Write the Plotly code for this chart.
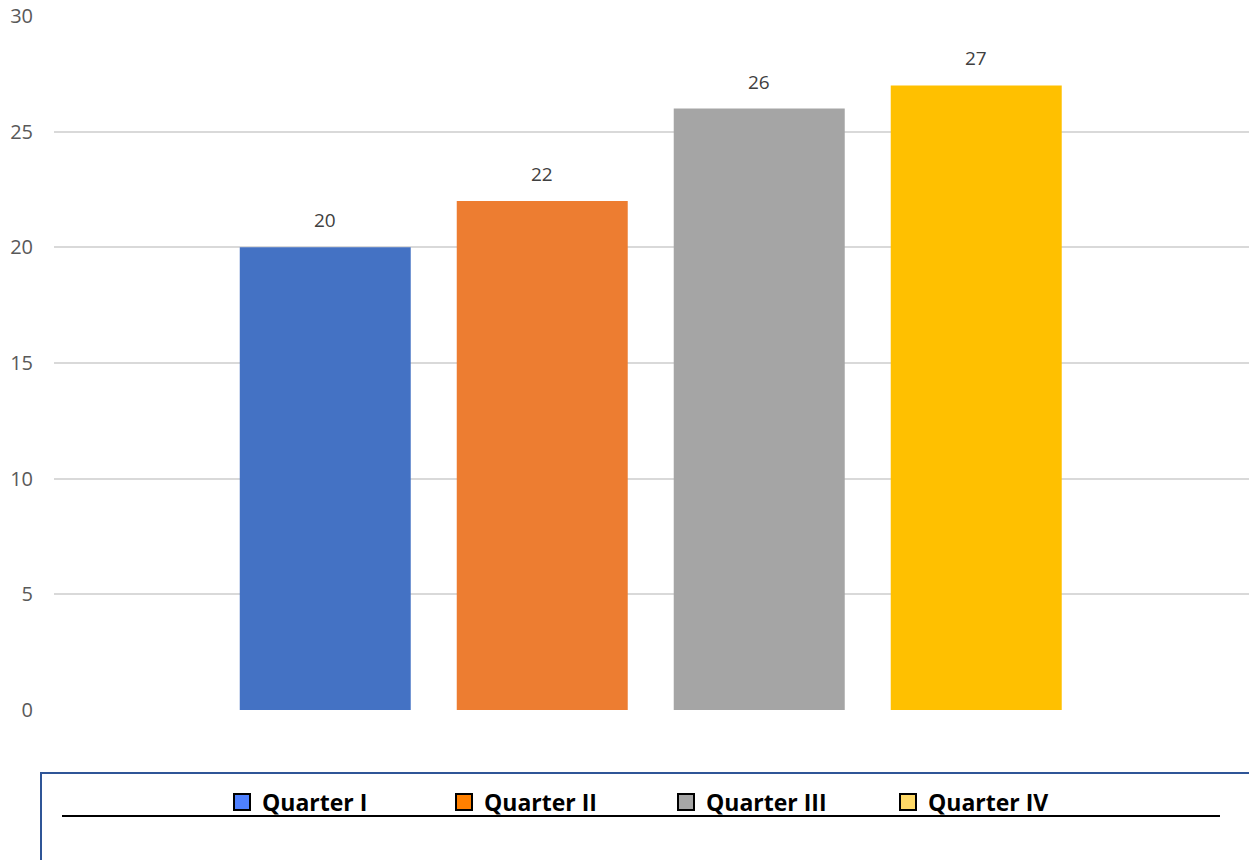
import plotly.graph_objects as go

quarters = ["Quarter I", "Quarter II", "Quarter III", "Quarter IV"]
values = [20, 22, 26, 27]
bar_colors = ["#4472C4", "#ED7D31", "#A5A5A5", "#FFC000"]
legend_colors = ["#4F81FF", "#FF8000", "#A6A6A6", "#FFD966"]
y_ticks = [0, 5, 10, 15, 20, 25, 30]

W, H = 1249, 860
ML, MR, MT, MB = 54, 0, 16, 150
PW, PH = W - ML - MR, H - MT - MB


def px_x(px):
    return (px - ML) / PW


def px_y(py):
    return (H - MB - py) / PH


fig = go.Figure()

for name, val, col in zip(quarters, values, bar_colors):
    fig.add_trace(go.Bar(
        x=[name], y=[val], width=0.788,
        marker=dict(color=col, line=dict(width=0)),
        showlegend=False, hoverinfo="x+y",
    ))

# legend entries with outlined square swatches
for name, col in zip(quarters, legend_colors):
    fig.add_trace(go.Scatter(
        x=[None], y=[None], mode="markers", name=name,
        marker=dict(symbol="square", size=16, color=col,
                    line=dict(color="black", width=2)),
    ))

# value labels above each bar
for name, val in zip(quarters, values):
    fig.add_annotation(
        x=name, y=val, text=str(val), showarrow=False,
        yanchor="bottom", yshift=12,
        font=dict(family="Open Sans", size=19, color="#404040"),
    )

# legend frame and rule beneath the entries
fig.add_shape(type="rect", xref="paper", yref="paper",
              x0=px_x(41), x1=px_x(1262), y0=px_y(880), y1=px_y(773),
              line=dict(color="#2F5597", width=2), fillcolor="rgba(0,0,0,0)")
fig.add_shape(type="line", xref="paper", yref="paper",
              x0=px_x(62), x1=px_x(1220), y0=px_y(816), y1=px_y(816),
              line=dict(color="black", width=2))

fig.update_layout(
    width=W, height=H,
    margin=dict(l=ML, r=MR, t=MT, b=MB),
    paper_bgcolor="white", plot_bgcolor="white",
    barmode="overlay",
    xaxis=dict(range=[-1.25, 4.257], showticklabels=False, showgrid=False,
               zeroline=False, showline=False, fixedrange=True,
               categoryorder="array", categoryarray=quarters),
    yaxis=dict(range=[0, 30], tickvals=y_ticks, showgrid=True,
               gridcolor="#D9D9D9", gridwidth=1.5, zeroline=False,
               showline=False, ticks="", ticklabelstandoff=20,
               tickfont=dict(family="Open Sans", size=20, color="#595959")),
    legend=dict(orientation="h", x=px_x(222), xanchor="left",
                y=px_y(802), yanchor="middle", entrywidth=177,
                entrywidthmode="pixels", bgcolor="rgba(0,0,0,0)",
                font=dict(family="Open Sans", size=23, color="black",
                          weight="bold"),
                itemclick=False, itemdoubleclick=False),
    showlegend=True,
)

fig.write_html("out.html")
